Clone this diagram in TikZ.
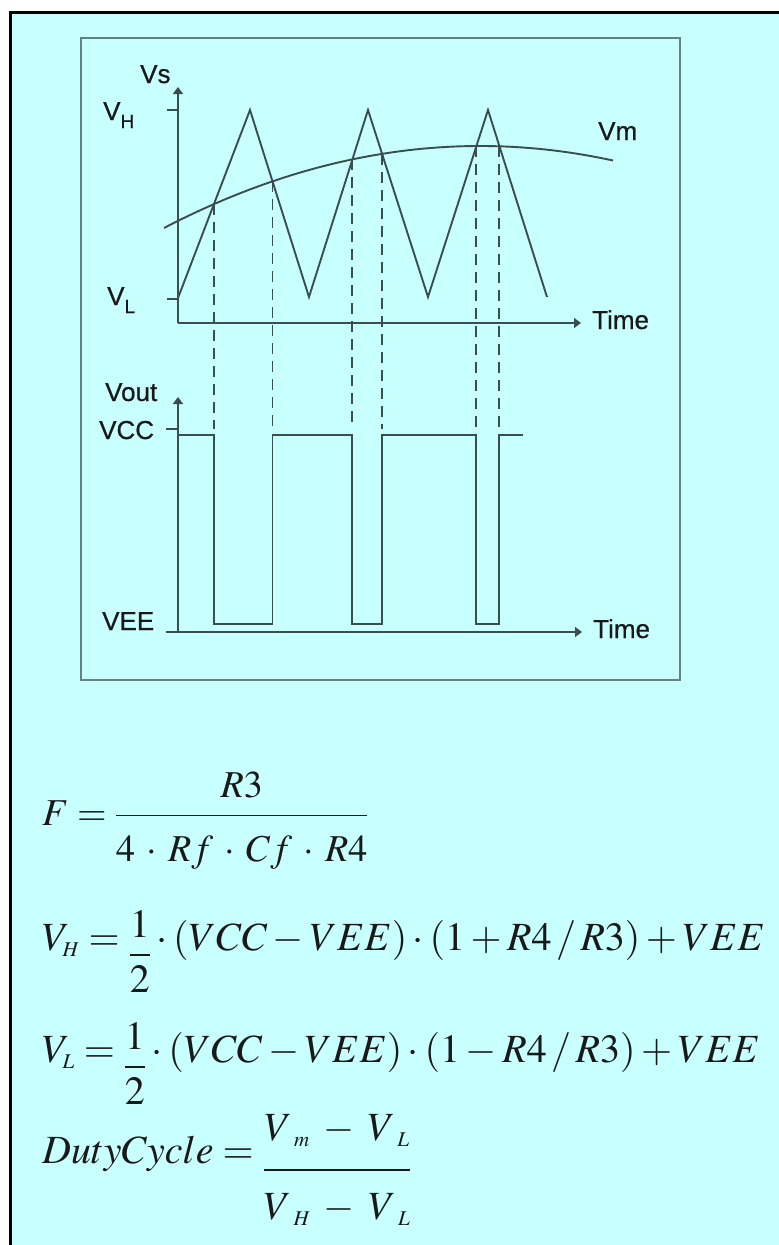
\documentclass[tikz,border=0pt]{standalone}
\usepackage{amsmath}
\usepackage{mathptmx}
\usepackage{graphicx}
\usepackage{fontspec}
\setmainfont{Liberation Serif}
\setsansfont{Liberation Sans}
\newfontfamily\lblfont{Liberation Sans}[FakeBold=0.6]
\usetikzlibrary{arrows.meta,intersections,positioning}
\definecolor{bgCyan}{RGB}{200,255,255}
\definecolor{frameGray}{RGB}{100,130,130}
\definecolor{lineGray}{RGB}{58,78,78}
\definecolor{txtDark}{RGB}{25,25,25}
\DeclareMathSizes{40}{40}{21}{15}
\DeclareMathSizes{38}{38}{20}{14}

\tikzset{
  sig/.style={lineGray, line width=1.9pt},
  axisln/.style={lineGray, line width=1.9pt, -{Triangle[length=7pt,width=10pt]}},
  tickln/.style={lineGray, line width=1.9pt},
  dashln/.style={lineGray, line width=1.9pt, dash pattern=on 11pt off 7pt},
  lbl/.style={font=\lblfont\fontsize{26}{26}\selectfont, txtDark,
              inner sep=0pt, anchor=base west},
  eqn/.style={font=\fontsize{40}{46}\selectfont, txtDark,
              inner sep=0pt, anchor=base west}
}
% label with a low subscript
\newcommand{\subl}[2]{#1\raisebox{-8pt}{\fontsize{19}{19}\selectfont #2}}
% fraction set the way the drawing does: shift, numerator lift, denominator drop
\newcommand{\mtfrac}[5]{\raisebox{#1}{$\displaystyle\frac
  {\raisebox{#2}{$\displaystyle #4$}}{\raisebox{#3}{$\displaystyle #5$}}$}}

\begin{document}
\begin{tikzpicture}[x=1pt, y=-1pt]
  \useasboundingbox (0,0) rectangle (779,1245);
  % Background and frames
  \fill[white] (0,0) rectangle (779,1245);
  \fill[bgCyan] (10,12) rectangle (779,1245);
  \draw[black, line width=3pt] (10,1245) -- (10,12) -- (779,12);
  \draw[frameGray, line width=2.2pt] (81,38) rectangle (680,680);

  % Upper plot: axes
  \coordinate (o1) at (178,323);
  \coordinate (y1) at (178,87);
  \coordinate (x1) at (581,323);
  \draw[axisln] (o1) -- (y1);
  \draw[axisln] (o1) -- (x1);
  \draw[tickln] (167,110) -- (178,110);
  \draw[tickln] (167,299) -- (178,299);
  \node[lbl] (vsLbl) at (140,83) {Vs};
  \node[lbl] (vhLbl) at (103,120) {\subl{V}{H}};
  \node[lbl] (vlLbl) at (107,305) {\subl{V}{L}};
  \node[lbl] (vmLbl) at (598,140) {Vm};
  \node[lbl] (t1Lbl) at (592,329) {Time};

  % Triangle wave and modulating level
  \draw[sig, name path=tri] (178,298) -- (250,110) -- (309,297)
    -- (368,110) -- (428,297) -- (488,110) -- (547,297);
  \draw[sig, name path=vm] plot[domain=164:613, samples=60, smooth]
    (\x, {146+8.21*((\x-480)/100)^2});
  \path[name intersections={of=vm and tri, name=c, sort by=vm}];

  % Lower plot: axes
  \coordinate (o2) at (178,632);
  \coordinate (y2) at (178,397);
  \coordinate (x2) at (582,632);
  \coordinate (hi) at (178,435);
  \coordinate (lo) at (178,624);
  \coordinate (vcc) at (178,429);
  \draw[axisln] (o2) -- (y2);
  \draw[axisln] (166,632) -- (x2);
  \draw[tickln] (166,429) -- (178,429);
  \node[lbl] (voLbl) at (105,401) {Vout};
  \node[lbl] (vccLbl) at (99,439) {VCC};
  \node[lbl] (veeLbl) at (102,630) {VEE};
  \node[lbl] (t2Lbl) at (593,638) {Time};

  % Dashed projections
  \foreach \i in {1,...,6}
    \draw[dashln] (c-\i) -- (c-\i |- vcc);

  % Comparator output
  \draw[sig] (hi) -- (c-1 |- hi) -- (c-1 |- lo) -- (c-2 |- lo)
    -- (c-2 |- hi) -- (c-3 |- hi) -- (c-3 |- lo) -- (c-4 |- lo)
    -- (c-4 |- hi) -- (c-5 |- hi) -- (c-5 |- lo) -- (c-6 |- lo)
    -- (c-6 |- hi) -- (523,435);

  % Equations
  \node[eqn, font=\fontsize{38}{44}\selectfont] (eqF) at (42,825)
    {$\medmuskip=5.3mu F=\mtfrac{0pt}{2pt}{-10pt}{R3}{4\cdot Rf\cdot Cf\cdot R4}$};
  \node[eqn] (eqH) at (42,950)
    {$V_{H}=\mtfrac{-15pt}{0pt}{0pt}{1}{2}\cdot(VCC-VEE)\cdot(1+R4\,/\,R3)+VEE$};
  \node[eqn] (eqL) at (42,1062)
    {$V_{L}=\mtfrac{-15pt}{0pt}{0pt}{1}{2}\cdot(VCC-VEE)\cdot(1-R4\,/\,R3)+VEE$};
  \node[eqn] (eqD) at (42,1163)
    {$\medmuskip=6mu DutyCycle=\mtfrac{-17pt}{12pt}{-12pt}
      {V_{\mkern8mu m}-V_{\mkern8mu L}}{V_{\mkern8mu H}-V_{\mkern8mu L}}$};
\end{tikzpicture}
\end{document}
